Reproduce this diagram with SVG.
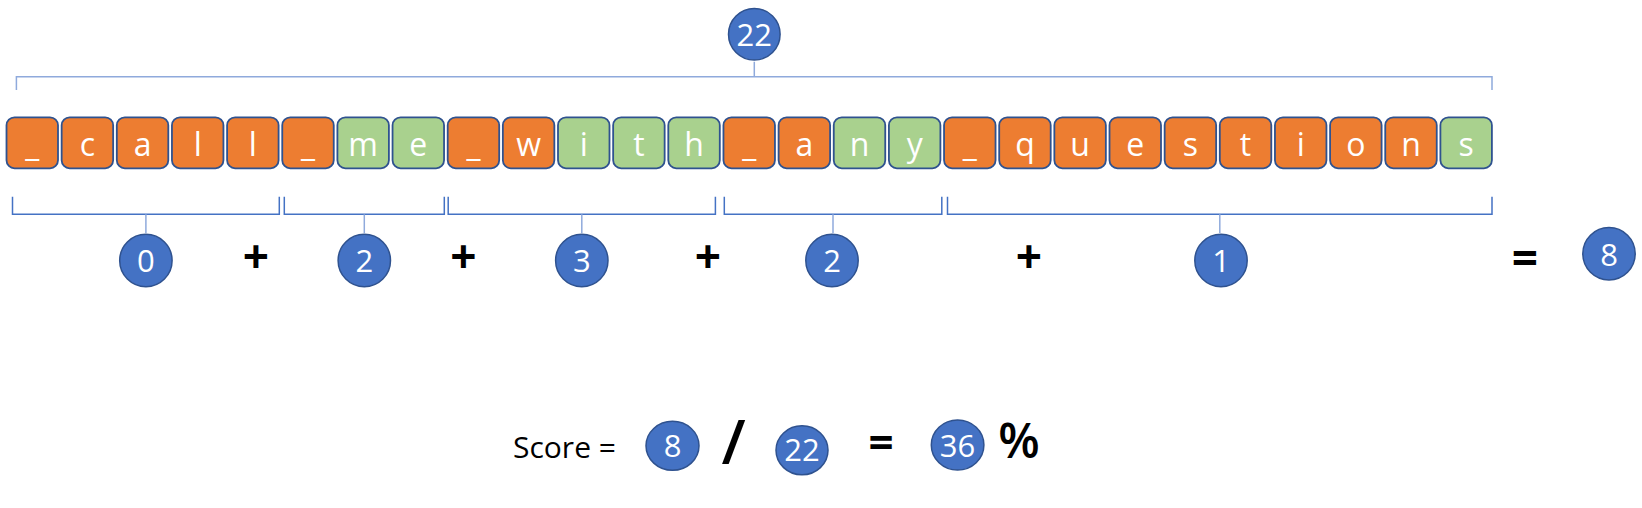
<svg xmlns="http://www.w3.org/2000/svg" width="1642" height="508" viewBox="0 0 1642 508">
<style>
.o{fill:#ED7D31;stroke:#2F528F;stroke-width:1.8}
.g{fill:#A9D18E;stroke:#2F528F;stroke-width:1.8}
.bt{font-family:"Open Sans","Noto Sans",sans-serif;font-size:32px;fill:#fff;text-anchor:middle}
.c{fill:#4472C4;stroke:#2F528F;stroke-width:1.5}
.ct{font-family:"Open Sans","Noto Sans",sans-serif;font-size:31px;fill:#fff;text-anchor:middle}
.op{font-family:"Open Sans","Noto Sans",sans-serif;font-weight:bold;fill:#000;text-anchor:middle}
.opn{font-family:"Open Sans","Noto Sans",sans-serif;font-weight:600;fill:#000;text-anchor:middle}
.br{fill:none;stroke:#4472C4;stroke-width:1.5}
.tk{fill:none;stroke:#8FAADC;stroke-width:1.5}
.lbl{font-family:"Open Sans","Noto Sans",sans-serif;font-size:30px;fill:#000}
</style>
<g id="connectors">
<path class="tk" d="M16.4 90 V76.7 H1492 V90 M754.3 76.7 V61.7"/>
<path class="br" d="M12.5 196.7 V214.3 H279.3 V196.7"/>
<path class="tk" d="M145.9 214.3 V233"/>
<path class="br" d="M284.3 196.7 V214.3 H444.3 V196.7"/>
<path class="tk" d="M364.3 214.3 V233"/>
<path class="br" d="M448.2 196.7 V214.3 H715.4 V196.7"/>
<path class="tk" d="M581.8 214.3 V233"/>
<path class="br" d="M724.3 196.7 V214.3 H941.8 V196.7"/>
<path class="tk" d="M833 214.3 V233"/>
<path class="br" d="M947.5 196.7 V214.3 H1492 V196.7"/>
<path class="tk" d="M1219.8 214.3 V233"/>
</g>
<g id="tokens">
<g id="b0"><rect class="o" x="6.5" y="117.3" width="51.5" height="51" rx="8"/><text class="bt" x="32.25" y="156">_</text></g>
<g id="b1"><rect class="o" x="61.65" y="117.3" width="51.5" height="51" rx="8"/><text class="bt" x="87.4" y="156">c</text></g>
<g id="b2"><rect class="o" x="116.8" y="117.3" width="51.5" height="51" rx="8"/><text class="bt" x="142.55" y="156">a</text></g>
<g id="b3"><rect class="o" x="171.95" y="117.3" width="51.5" height="51" rx="8"/><text class="bt" x="197.7" y="156">l</text></g>
<g id="b4"><rect class="o" x="227.1" y="117.3" width="51.5" height="51" rx="8"/><text class="bt" x="252.85" y="156">l</text></g>
<g id="b5"><rect class="o" x="282.25" y="117.3" width="51.5" height="51" rx="8"/><text class="bt" x="308" y="156">_</text></g>
<g id="b6"><rect class="g" x="337.4" y="117.3" width="51.5" height="51" rx="8"/><text class="bt" x="363.15" y="156">m</text></g>
<g id="b7"><rect class="g" x="392.55" y="117.3" width="51.5" height="51" rx="8"/><text class="bt" x="418.3" y="156">e</text></g>
<g id="b8"><rect class="o" x="447.7" y="117.3" width="51.5" height="51" rx="8"/><text class="bt" x="473.45" y="156">_</text></g>
<g id="b9"><rect class="o" x="502.85" y="117.3" width="51.5" height="51" rx="8"/><text class="bt" x="528.6" y="156">w</text></g>
<g id="b10"><rect class="g" x="558" y="117.3" width="51.5" height="51" rx="8"/><text class="bt" x="583.75" y="156">i</text></g>
<g id="b11"><rect class="g" x="613.15" y="117.3" width="51.5" height="51" rx="8"/><text class="bt" x="638.9" y="156">t</text></g>
<g id="b12"><rect class="g" x="668.3" y="117.3" width="51.5" height="51" rx="8"/><text class="bt" x="694.05" y="156">h</text></g>
<g id="b13"><rect class="o" x="723.45" y="117.3" width="51.5" height="51" rx="8"/><text class="bt" x="749.2" y="156">_</text></g>
<g id="b14"><rect class="o" x="778.6" y="117.3" width="51.5" height="51" rx="8"/><text class="bt" x="804.35" y="156">a</text></g>
<g id="b15"><rect class="g" x="833.75" y="117.3" width="51.5" height="51" rx="8"/><text class="bt" x="859.5" y="156">n</text></g>
<g id="b16"><rect class="g" x="888.9" y="117.3" width="51.5" height="51" rx="8"/><text class="bt" x="914.65" y="156">y</text></g>
<g id="b17"><rect class="o" x="944.05" y="117.3" width="51.5" height="51" rx="8"/><text class="bt" x="969.8" y="156">_</text></g>
<g id="b18"><rect class="o" x="999.2" y="117.3" width="51.5" height="51" rx="8"/><text class="bt" x="1024.95" y="156">q</text></g>
<g id="b19"><rect class="o" x="1054.35" y="117.3" width="51.5" height="51" rx="8"/><text class="bt" x="1080.1" y="156">u</text></g>
<g id="b20"><rect class="o" x="1109.5" y="117.3" width="51.5" height="51" rx="8"/><text class="bt" x="1135.25" y="156">e</text></g>
<g id="b21"><rect class="o" x="1164.65" y="117.3" width="51.5" height="51" rx="8"/><text class="bt" x="1190.4" y="156">s</text></g>
<g id="b22"><rect class="o" x="1219.8" y="117.3" width="51.5" height="51" rx="8"/><text class="bt" x="1245.55" y="156">t</text></g>
<g id="b23"><rect class="o" x="1274.95" y="117.3" width="51.5" height="51" rx="8"/><text class="bt" x="1300.7" y="156">i</text></g>
<g id="b24"><rect class="o" x="1330.1" y="117.3" width="51.5" height="51" rx="8"/><text class="bt" x="1355.85" y="156">o</text></g>
<g id="b25"><rect class="o" x="1385.25" y="117.3" width="51.5" height="51" rx="8"/><text class="bt" x="1411" y="156">n</text></g>
<g id="b26"><rect class="g" x="1440.4" y="117.3" width="51.5" height="51" rx="8"/><text class="bt" x="1466.15" y="156">s</text></g>
</g>
<g id="total"><circle class="c" cx="754.3" cy="34.2" r="25.8"/><text class="ct" x="754.3" y="46">22</text></g>
<g id="n0"><circle class="c" cx="145.9" cy="260.5" r="26.2"/><text class="ct" x="145.9" y="272">0</text></g>
<g id="n1"><circle class="c" cx="364.3" cy="260.5" r="26.2"/><text class="ct" x="364.3" y="272">2</text></g>
<g id="n2"><circle class="c" cx="581.8" cy="260.5" r="26.2"/><text class="ct" x="581.8" y="272">3</text></g>
<g id="n3"><circle class="c" cx="832" cy="260.5" r="26.2"/><text class="ct" x="832" y="272">2</text></g>
<g id="n4"><circle class="c" cx="1221" cy="260.5" r="26.2"/><text class="ct" x="1221" y="272">1</text></g>
<g id="sum"><circle class="c" cx="1609" cy="253.7" r="26.2"/><text class="ct" x="1609" y="265.5">8</text></g>
<g id="ops">
<text class="op" x="256" y="273" font-size="46">+</text>
<text class="op" x="463.5" y="273" font-size="46">+</text>
<text class="op" x="708" y="273" font-size="46">+</text>
<text class="op" x="1029" y="273" font-size="46">+</text>
<text class="op" x="1525" y="274.5" font-size="46">=</text>
</g>
<g id="score">
<text class="lbl" x="513" y="458.3">Score =</text>
<g id="s8"><ellipse class="c" cx="672.5" cy="445.8" rx="26.5" ry="24.5"/><text class="ct" x="672.5" y="456.5">8</text></g>
<text class="opn" x="733.5" y="464" font-size="62">/</text>
<g id="s22"><ellipse class="c" cx="802" cy="450.3" rx="26" ry="24.5"/><text class="ct" x="802" y="461">22</text></g>
<text class="op" x="881" y="457.5" font-size="44">=</text>
<g id="s36"><ellipse class="c" cx="957.6" cy="445" rx="26.3" ry="25"/><text class="ct" x="957.6" y="456.5">36</text></g>
<text class="opn" x="1019" y="458" font-size="48">%</text>
</g>
</svg>
